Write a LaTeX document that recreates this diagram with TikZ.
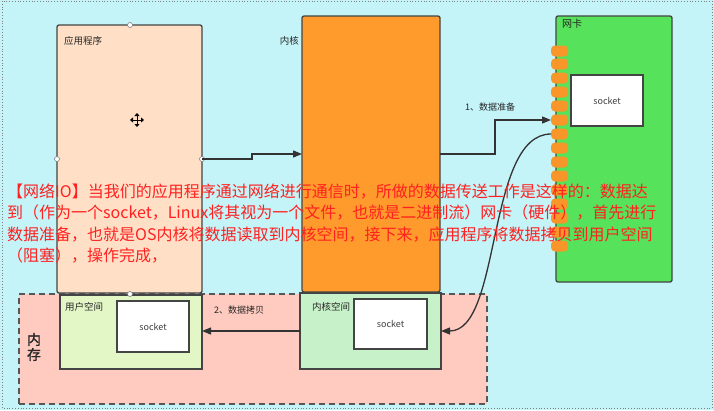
\documentclass[tikz,border=0pt]{standalone}
\usepackage{fontspec}
\setmainfont{Noto Sans CJK SC}
\newfontfamily\memfont[FakeBold=1.5]{Noto Sans CJK SC}
\usetikzlibrary{arrows.meta}
\definecolor{bgc}{HTML}{C4F4F8}
\definecolor{peach}{HTML}{FFE0C6}
\definecolor{korange}{HTML}{FF9A2C}
\definecolor{pillc}{HTML}{F8962A}
\definecolor{nicgreen}{HTML}{56E25A}
\definecolor{memc}{HTML}{FFCBC0}
\definecolor{userc}{HTML}{E2F6C6}
\definecolor{kspc}{HTML}{C7F1C9}
\definecolor{edge}{HTML}{444444}
\definecolor{linec}{HTML}{333333}
\definecolor{redtxt}{HTML}{FF2020}
\tikzset{
  box/.style={draw=edge, line width=1.3pt, inner sep=0pt, outer sep=0pt, rounded corners=2pt},
  flatbox/.style={draw=edge, line width=1.2pt, inner sep=0pt, outer sep=0pt},
  sockbox/.style={draw=edge, line width=1.2pt, fill=white, inner sep=0pt, outer sep=0pt,
     minimum width=72pt, minimum height=51pt, font=\fontsize{9}{10}\selectfont, text=black!75},
  pill/.style={fill=pillc, rounded corners=4pt, minimum width=17pt, minimum height=11pt, inner sep=0pt, outer sep=0pt},
  lbl/.style={font=\fontsize{9.5}{11}\selectfont, text=black!85, inner sep=0pt},
  arr/.style={draw=linec, line width=1.3pt, -{Triangle[length=9pt,width=7pt]}},
  handle/.style={circle, draw=gray, fill=white, line width=0.6pt, minimum size=5pt, inner sep=0pt},
  redline/.style={anchor=base west, text=redtxt, font=\fontsize{16}{18}\selectfont, inner sep=0pt},
}
\begin{document}
\begin{tikzpicture}[x=1pt,y=-1pt]
\useasboundingbox (0,0) rectangle (714,410);
\fill[bgc] (0,0) rectangle (714,410);
\draw[dotted, gray, line width=0.8pt] (2,1) rectangle (712,408);

% memory
\node[draw=edge!90, line width=1.8pt, dash pattern=on 6pt off 4pt, fill=memc, minimum width=468pt, minimum height=110pt, inner sep=0pt] (mem) at (253,349) {};
\node[font=\memfont\fontsize{14}{16}\selectfont, text=black!85, align=center, inner sep=0pt] (memlbl) at (34,347) {内\\[-1pt]存};

% main boxes
\node[box, fill=peach, minimum width=145pt, minimum height=268pt] (app) at (129.5,159) {};
\node[box, fill=korange, minimum width=138pt, minimum height=276pt] (kern) at (371,154) {};
\node[box, fill=nicgreen, minimum width=116pt, minimum height=266pt] (nic) at (614,149) {};

% spaces
\node[flatbox, fill=userc, minimum width=142pt, minimum height=74pt] (user) at (131,332) {};
\node[flatbox, fill=kspc, minimum width=141pt, minimum height=76pt] (ksp) at (370.5,331) {};

% sockets
\node[sockbox] (usock) at (153,326.5) {socket};
\node[sockbox, minimum width=73pt, minimum height=50pt] (ksock) at (390.5,324) {socket};
\node[sockbox] (nsock) at (607,100.5) {socket};

% pills
\node[pill] (p1) at (559.5,51) {};
\foreach \i in {2,...,15} {
  \node[pill] (p\i) at (559.5,{64+14*(\i-2)}) {};
}

% labels
\node[lbl, anchor=west] (lapp) at (64,41) {应用程序};
\node[lbl, anchor=east] (lkern) at (299,41) {内核};
\node[lbl, anchor=west, font=\fontsize{10}{11}\selectfont] (lnic) at (562,24) {网卡};
\node[lbl, anchor=west] (luser) at (65,307) {用户空间};
\node[lbl, anchor=west] (lksp) at (312,307) {内核空间};

% handles
\node[handle] (h1) at (130,25) {};
\node[handle] (h2) at (57,159) {};
\node[handle] (h3) at (202,159) {};
\node[handle] (h4) at (130,294) {};

% move cursor
\draw[line width=0.8pt, {Triangle[length=3pt,width=5pt]}-{Triangle[length=3pt,width=5pt]}] (130,120) -- (144,120);
\draw[line width=0.8pt, {Triangle[length=3pt,width=5pt]}-{Triangle[length=3pt,width=5pt]}] (137,113) -- (137,127);

% connectors
\draw[arr] (app.east) -- ++(50,0) -- ++(0,-5) -- (kern.west);
\draw[arr] (kern.east) -- (495,154) |- (p6.west);
\node[lbl, font=\fontsize{9}{10}\selectfont] (l1) at (490,107) {1、数据准备};
\draw[arr] (p7.west) .. controls (486,134) and (502,331) .. (ksp.east);
\draw[arr] (ksp.west) -- (user.east |- ksp.west);
\node[lbl, font=\fontsize{9}{10}\selectfont] (l2) at (239,310) {2、数据拷贝};

% red text
\node[redline] (t1) at (7,197) {【网络IO】当我们的应用程序通过网络进行通信时，所做的数据传送工作是这样的：数据达};
\node[redline] (t2) at (7,218.5) {到（作为一个socket，Linux将其视为一个文件，也就是二进制流）网卡（硬件），首先进行};
\node[redline] (t3) at (7,240) {数据准备，也就是OS内核将数据读取到内核空间，接下来，应用程序将数据拷贝到用户空间};
\node[redline] (t4) at (7,261.5) {（阻塞），操作完成，};
\end{tikzpicture}
\end{document}
